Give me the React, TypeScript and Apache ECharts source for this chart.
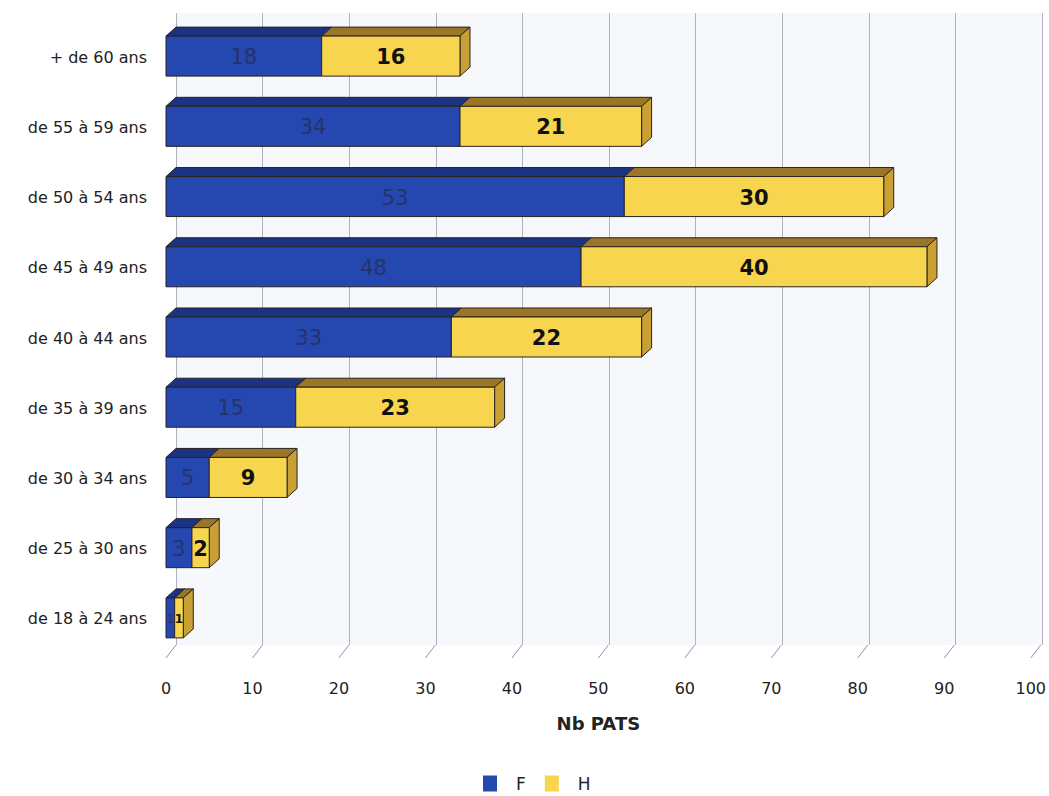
import React, { useEffect, useRef } from "react";
import * as echarts from "echarts";

const categories = [
  "de 18 à 24 ans",
  "de 25 à 30 ans",
  "de 30 à 34 ans",
  "de 35 à 39 ans",
  "de 40 à 44 ans",
  "de 45 à 49 ans",
  "de 50 à 54 ans",
  "de 55 à 59 ans",
  "+ de 60 ans",
];
const valuesF = [1, 3, 5, 15, 33, 48, 53, 34, 18];
const valuesH = [1, 2, 9, 23, 22, 40, 30, 21, 16];
const xTicks = [0, 10, 20, 30, 40, 50, 60, 70, 80, 90, 100];

const DX = 10;
const DY = 9;
const font = "DejaVu Sans, Verdana, sans-serif";

const blue = { front: "#2447b0", top: "#1c3383", side: "#1a2f78", label: "#26336a", weight: "normal" };
const yellow = { front: "#f7d54e", top: "#9a7628", side: "#c9a034", label: "#111111", weight: "bold" };

function makeRender(colors: any, isLast: boolean) {
  return (params: any, api: any) => {
    const cat = api.value(0);
    const s = api.value(1);
    const e = api.value(2);
    const v = api.value(3);
    const p0 = api.coord([s, cat]);
    const p1 = api.coord([e, cat]);
    const band = api.size([0, 1])[1];
    const h = band * 0.57;
    const x0 = p0[0];
    const x1 = p1[0];
    const yt = p0[1] - h / 2 - 1;
    const yb = yt + h;
    const w = x1 - x0;
    const stroke = "#2a2222";
    const children: any[] = [
      {
        type: "polygon",
        shape: { points: [[x0, yt], [x1, yt], [x1 + DX, yt - DY], [x0 + DX, yt - DY]] },
        style: { fill: colors.top, stroke, lineWidth: 1 },
      },
    ];
    if (isLast) {
      children.push({
        type: "polygon",
        shape: { points: [[x1, yt], [x1 + DX, yt - DY], [x1 + DX, yb - DY], [x1, yb]] },
        style: { fill: colors.side, stroke, lineWidth: 1 },
      });
    }
    children.push({
      type: "rect",
      shape: { x: x0, y: yt, width: w, height: h },
      style: { fill: colors.front, stroke, lineWidth: 1 },
    });
    const fs = Math.min(21, Math.max(12, w * 1.3));
    children.push({
      type: "text",
      style: {
        text: String(v),
        x: (x0 + x1) / 2,
        y: (yt + yb) / 2 + 1,
        align: "center",
        verticalAlign: "middle",
        fill: colors.label,
        fontSize: fs,
        fontWeight: colors.weight,
        fontFamily: font,
      },
    });
    return { type: "group", children };
  };
}

export default function App() {
  const ref = useRef<HTMLDivElement>(null);
  useEffect(() => {
    document.body.style.margin = "0";
    const chart = echarts.init(ref.current!, null, { renderer: "svg" });
    const dataF = categories.map((_, i) => [i, 0, valuesF[i], valuesF[i]]);
    const dataH = categories.map((_, i) => [i, valuesF[i], valuesF[i] + valuesH[i], valuesH[i]]);
    const floorData = xTicks.map((t) => [t]);
    chart.setOption({
      animation: false,
      backgroundColor: "#ffffff",
      textStyle: { fontFamily: font },
      grid: [
        { left: 166, right: 17, top: 22, bottom: 142, containLabel: false },
        {
          left: 166 + DX,
          right: 17 - DX,
          top: 22 - DY,
          bottom: 142 + DY,
          show: true,
          backgroundColor: "#f7f8fb",
          borderWidth: 0,
          z: 0,
        },
      ],
      xAxis: [
        {
          type: "value",
          gridIndex: 0,
          min: 0,
          max: 100,
          interval: 10,
          axisLine: { show: false },
          axisTick: { show: false },
          splitLine: { show: false },
          axisLabel: { margin: 26, fontSize: 16, color: "#222", fontFamily: font },
          name: "Nb PATS",
          nameLocation: "middle",
          nameGap: 60,
          nameTextStyle: { fontSize: 18, fontWeight: "bold", color: "#222", fontFamily: font },
        },
        {
          type: "value",
          gridIndex: 1,
          min: 0,
          max: 100,
          interval: 10,
          axisLine: { show: false },
          axisTick: { show: false },
          axisLabel: { show: false },
          splitLine: { show: true, lineStyle: { color: "#aeb3c2", width: 1 } },
        },
      ],
      yAxis: [
        {
          type: "category",
          gridIndex: 0,
          data: categories,
          axisLine: { show: false },
          axisTick: { show: false },
          axisLabel: { margin: 19, fontSize: 16, color: "#222", fontFamily: font },
        },
        {
          type: "category",
          gridIndex: 1,
          data: categories,
          show: false,
        },
      ],
      legend: {
        data: ["F", "H"],
        left: 478,
        top: 770,
        icon: "rect",
        itemWidth: 14,
        itemHeight: 16,
        itemGap: 19,
        textStyle: { fontSize: 17, color: "#222", padding: [0, 0, 0, 14], fontFamily: font },
      },
      series: [
        {
          name: "floor",
          type: "custom",
          xAxisIndex: 0,
          yAxisIndex: 0,
          data: floorData,
          encode: { x: 0 },
          silent: true,
          z: 1,
          renderItem: (params: any, api: any) => {
            const t = api.value(0);
            const cs = params.coordSys;
            const bottom = cs.y + cs.height;
            const p = api.coord([t, 0]);
            return {
              type: "line",
              shape: { x1: p[0] + DX, y1: bottom - DY, x2: p[0], y2: bottom + 4 },
              style: { stroke: "#8f94a3", lineWidth: 1 },
            };
          },
        },
        {
          name: "F",
          type: "custom",
          xAxisIndex: 0,
          yAxisIndex: 0,
          itemStyle: { color: blue.front },
          data: dataF,
          encode: { x: [1, 2], y: 0 },
          renderItem: makeRender(blue, false),
          z: 2,
        },
        {
          name: "H",
          type: "custom",
          xAxisIndex: 0,
          yAxisIndex: 0,
          itemStyle: { color: yellow.front },
          data: dataH,
          encode: { x: [1, 2], y: 0 },
          renderItem: makeRender(yellow, true),
          z: 2,
        },
      ],
    });
    return () => chart.dispose();
  }, []);
  return <div ref={ref} style={{ width: 1049, height: 796 }} />;
}
